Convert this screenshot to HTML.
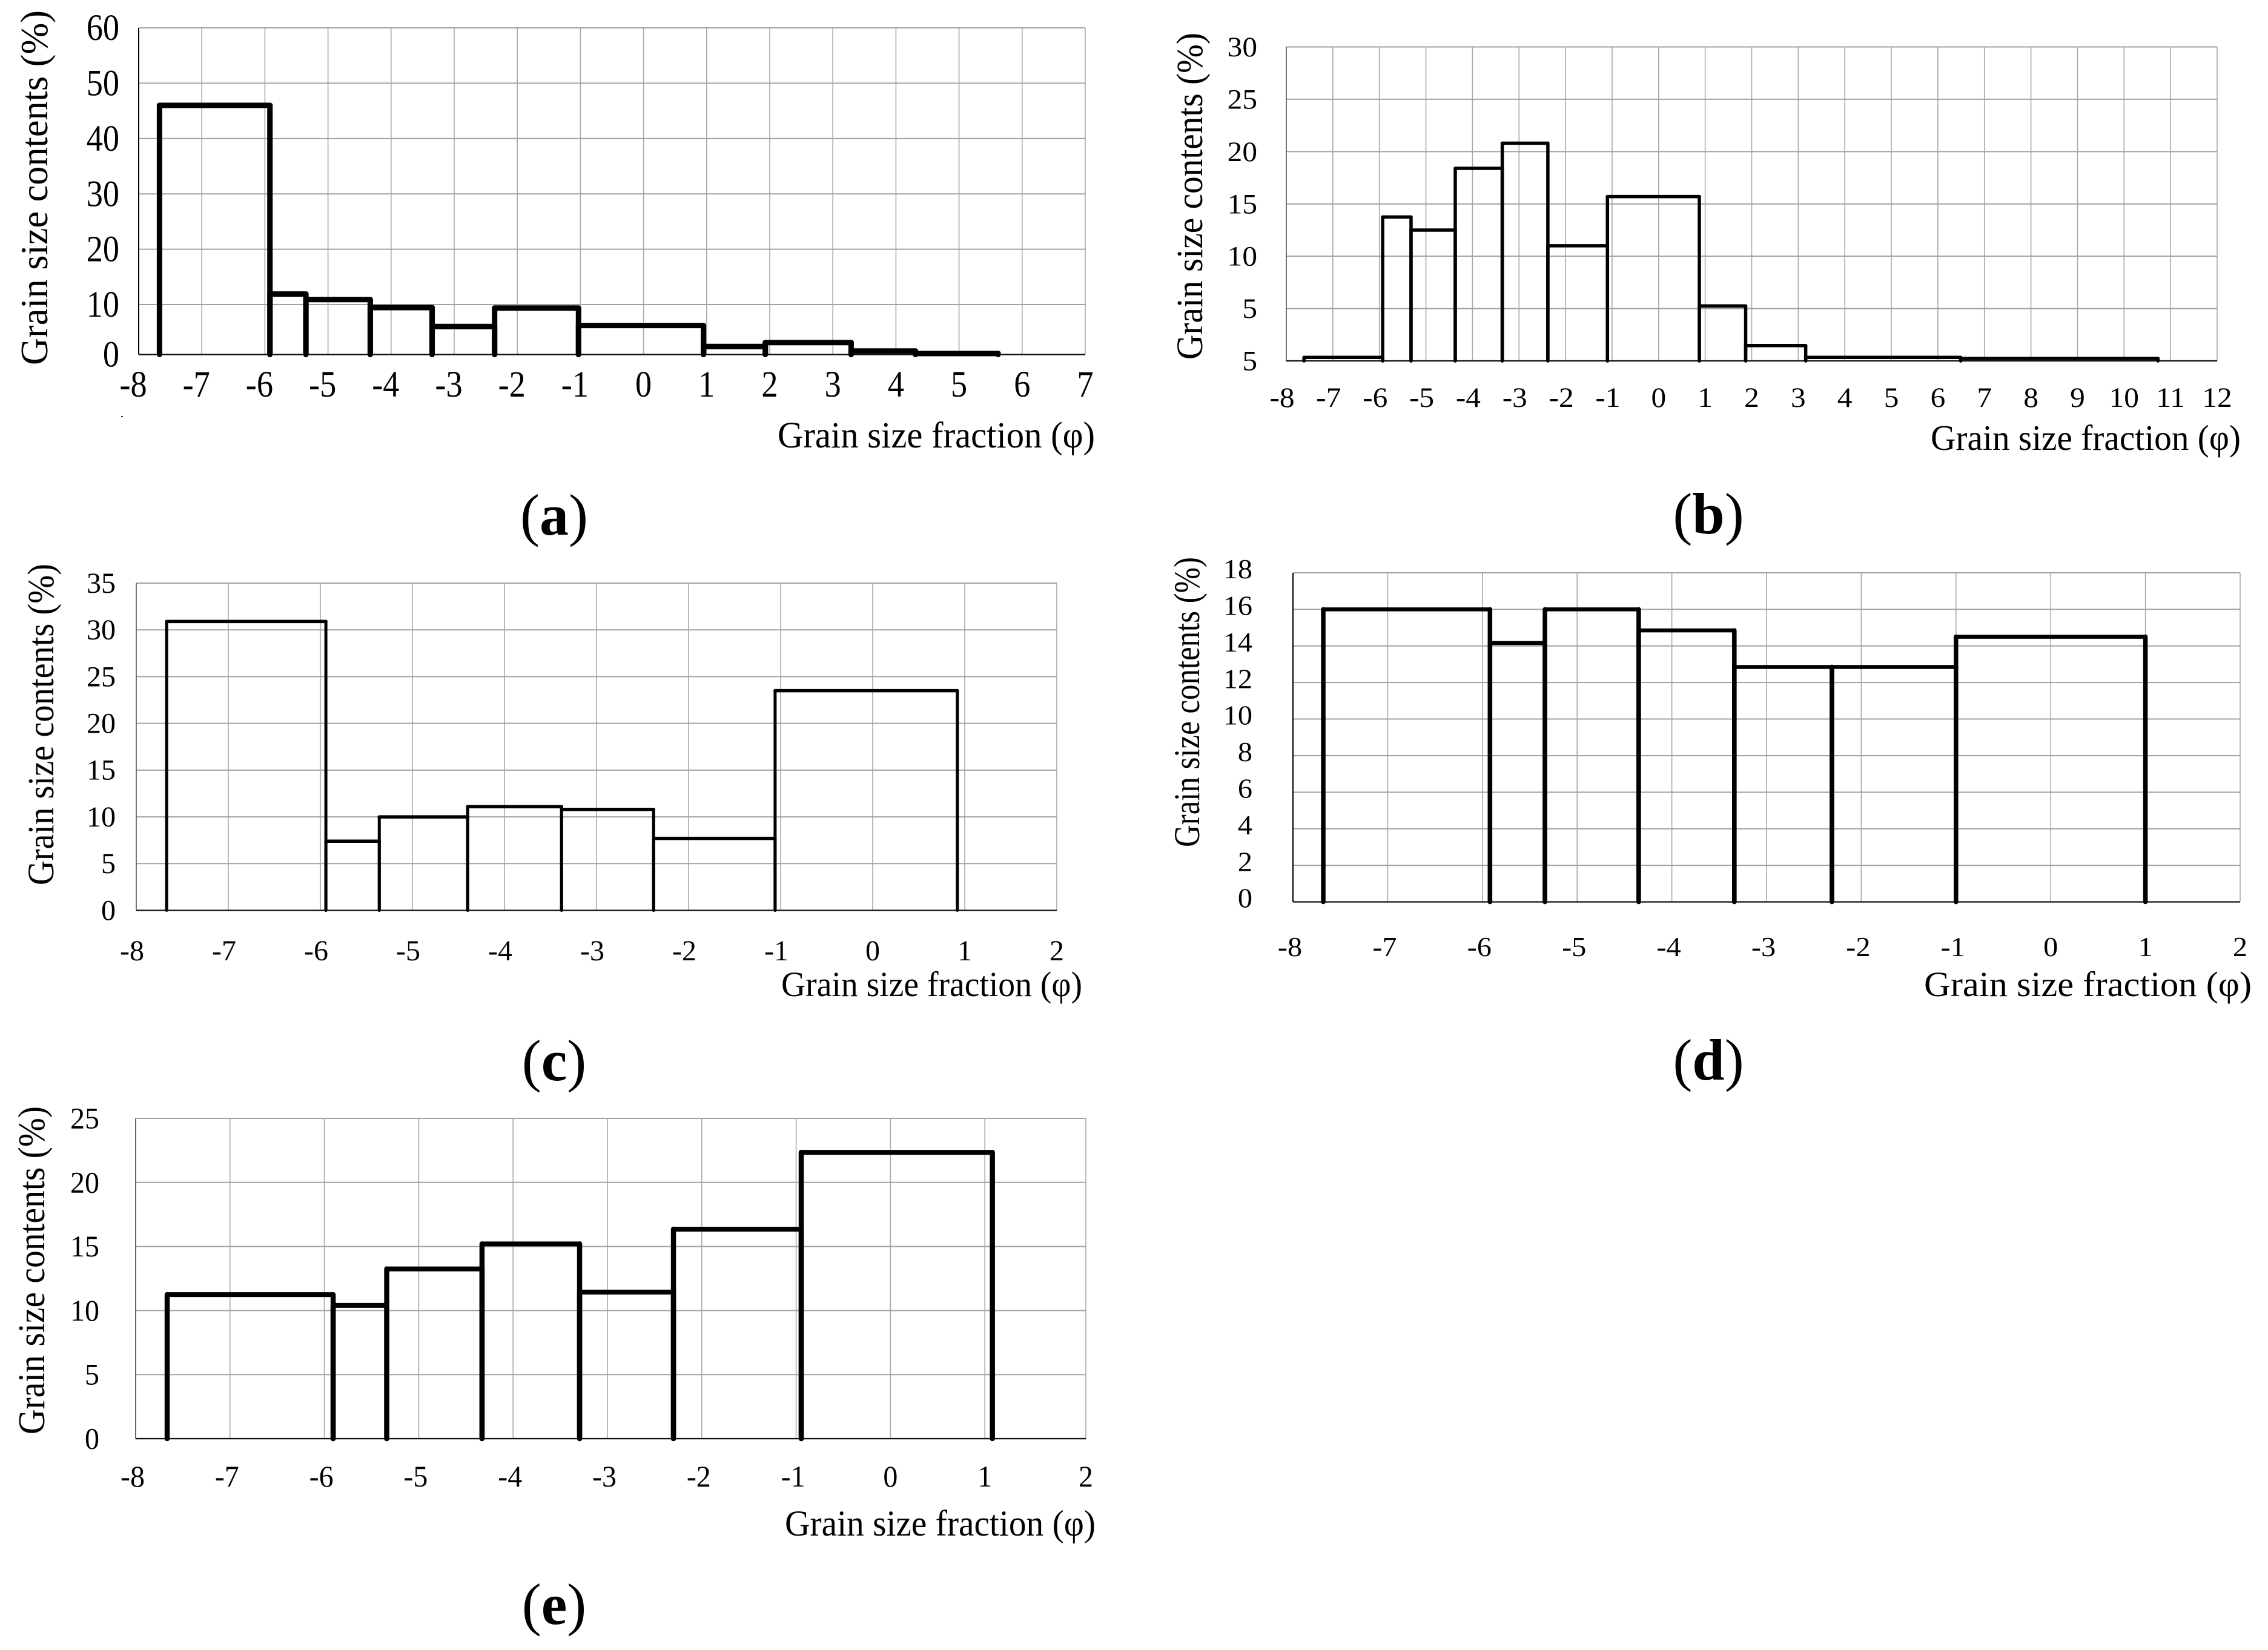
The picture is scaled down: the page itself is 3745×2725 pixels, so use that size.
<!DOCTYPE html>
<html lang="en">
<head>
<meta charset="utf-8">
<title>Grain size distribution histograms</title>
<style>
html,body{margin:0;padding:0;background:#fff;}
svg{display:block;}
text{font-family:"Liberation Serif","DejaVu Serif",serif;fill:#000;}
</style>
</head>
<body>
<svg id="figure" xmlns="http://www.w3.org/2000/svg" width="3745" height="2725" viewBox="0 0 3745 2725">
<rect x="0" y="0" width="3745" height="2725" fill="#fff"/>
<rect x="200" y="687" width="3" height="2" fill="#333"/>
</svg>
<script>
// Panel (a)
const aEdges = [-7.67,-5.92,-5.35,-4.33,-3.35,-2.36,-1.03,0.95,1.93,3.29,4.31,5.62];
const aValues = [46,11.9,10.9,9.4,5.6,9.3,5.8,1.6,2.4,0.7,0.2];
const aXTicks = [-8,-7,-6,-5,-4,-3,-2,-1,0,1,2,3,4,5,6,7];
const aYTicks = [0,10,20,30,40,50,60];
const aYLabels = ["0","10","20","30","40","50","60"];
// Panel (b)
const bEdges = [-7.62,-5.93,-5.32,-4.37,-3.36,-2.38,-1.1,0.875,1.87,3.16,6.49,10.73];
const bValues = [0.33,13.75,12.5,18.4,20.8,11,15.7,5.25,1.46,0.33,0.23];
const bXTicks = [-8,-7,-6,-5,-4,-3,-2,-1,0,1,2,3,4,5,6,7,8,9,10,11,12];
const bYTicks = [0,5,10,15,20,25,30];
const bYLabels = ["5","5","10","15","20","25","30"];
// Panel (c)
const cEdges = [-7.67,-5.94,-5.36,-4.40,-3.38,-2.38,-1.06,0.92];
const cValues = [30.9,7.4,10,11.1,10.8,7.7,23.5];
const cXTicks = [-8,-7,-6,-5,-4,-3,-2,-1,0,1,2];
const cYTicks = [0,5,10,15,20,25,30,35];
const cYLabels = ["0","5","10","15","20","25","30","35"];
// Panel (d)
const dEdges = [-7.68,-5.92,-5.34,-4.35,-3.34,-2.31,-1.0,1.0];
const dValues = [16,14.16,16,14.85,12.85,12.85,14.5];
const dXTicks = [-8,-7,-6,-5,-4,-3,-2,-1,0,1,2];
const dYTicks = [0,2,4,6,8,10,12,14,16,18];
const dYLabels = ["0","2","4","6","8","10","12","14","16","18"];
// Panel (e)
const eEdges = [-7.666,-5.907,-5.339,-4.329,-3.295,-2.30,-0.946,1.08];
const eValues = [11.24,10.4,13.25,15.2,11.44,16.35,22.35];
const eXTicks = [-8,-7,-6,-5,-4,-3,-2,-1,0,1,2];
const eYTicks = [0,5,10,15,20,25];
const eYLabels = ["0","5","10","15","20","25"];

const svg = document.getElementById('figure');
const NS = 'http://www.w3.org/2000/svg';

function make(parent, tag, props) {
  const el = document.createElementNS(NS, tag);
  for (const k in props) el.setAttribute(k, props[k]);
  parent.appendChild(el);
  return el;
}

function drawPanel(p) {
  const group = make(svg, 'g', {});
  
  

  const xMin = p.xTicks[0];
  const xMax = p.xTicks[p.xTicks.length - 1];
  const unit = p.unit || (p.right - p.left) / (xMax - xMin);
  const xScale = function (v) { return v >= xMax ? p.right : p.left + (v - xMin) * unit; };
  const yMax = p.yTicks[p.yTicks.length - 1];
  const yScale = function (v) {
    if (p.breakValue !== undefined) {
      if (v <= p.breakValue) return p.bottom - v / p.breakValue * (p.bottom - p.breakY);
      return p.breakY - (v - p.breakValue) / (yMax - p.breakValue) * (p.breakY - p.top);
    }
    return p.bottom - v / yMax * (p.bottom - p.top);
  };

  p.xTicks.forEach(function (t, i) {
    if (i > 0) {
      const line = make(group, 'line', {x1: xScale(t), x2: xScale(t), y1: p.top, y2: p.bottom, stroke: '#a8a8a8', 'stroke-width': 1.6});
      
      
    }
    const lx = xScale(t) + (t < 0 ? p.negDx : 0);
    const label = make(group, 'text', {transform: 'translate(' + lx + ' ' + p.xTickY + ') scale(' + p.tickSX + ' 1)', 'font-size': p.tickFont, 'text-anchor': 'middle'});
    label.textContent = String(t);
    
    
  });

  p.yTicks.forEach(function (t, i) {
    const isBase = i === 0;
    if (!isBase) {
      const line = make(group, 'line', {x1: p.left, x2: p.right, y1: yScale(t), y2: yScale(t), stroke: '#a2a2a2', 'stroke-width': 2});
      
      
    }
    const ly = yScale(t) + p.tickFont * 0.33 + p.tickDy;
    const label = make(group, 'text', {transform: 'translate(' + p.yTickRight + ' ' + ly + ') scale(' + p.tickSX + ' 1)', 'font-size': p.tickFont, 'text-anchor': 'end'});
    label.textContent = p.yLabels[i];
    
    
  });

  const yAxis = make(group, 'line', {x1: p.left, x2: p.left, y1: p.top, y2: p.bottom, stroke: p.axisColor, 'stroke-width': p.axisWidth});
  
  
  const xAxis = make(group, 'line', {x1: p.left, x2: p.right, y1: p.bottom, y2: p.bottom, stroke: '#111', 'stroke-width': 2.2});
  
  

  p.values.forEach(function (v, i) {
    const x0 = xScale(p.edges[i]);
    const x1 = xScale(p.edges[i + 1]);
    const yTop = yScale(v);
    const outline = make(group, 'path', {d: 'M' + x0 + ' ' + p.bottom + 'V' + yTop + 'M' + x1 + ' ' + yTop + 'V' + p.bottom, fill: 'none', stroke: '#000', 'stroke-width': p.vStroke, 'stroke-linecap': 'round'});
    
    
    const top = make(group, 'line', {x1: x0, x2: x1, y1: yTop, y2: yTop, stroke: '#000', 'stroke-width': p.hStroke, 'stroke-linecap': 'round'});
    
    
  });

  const yTitle = make(group, 'text', {transform: 'translate(' + p.yTitleX + ' ' + p.yTitleBottom + ') rotate(-90)', 'font-size': p.yTitleFont, textLength: p.yTitleLen, lengthAdjust: 'spacingAndGlyphs'});
  yTitle.textContent = 'Grain size contents (%)';
  
  

  const xTitle = make(group, 'text', {x: p.xTitleX, y: p.xTitleY, 'font-size': p.xTitleFont, textLength: p.xTitleLen, lengthAdjust: 'spacingAndGlyphs'});
  xTitle.textContent = 'Grain size fraction (φ)';
  
  

  const letter = make(group, 'text', {x: p.letterX, y: p.letterY, 'font-size': 96, 'text-anchor': 'middle'});
  const open = make(letter, 'tspan', {});
  open.textContent = '(';
  const mid = make(letter, 'tspan', {'font-weight': 'bold'});
  mid.textContent = p.id;
  const close = make(letter, 'tspan', {});
  close.textContent = ')';
  
  
}

drawPanel({id:'a', edges:aEdges, values:aValues, xTicks:aXTicks, yTicks:aYTicks, yLabels:aYLabels,
  left:229, right:1792, top:46, bottom:585.5, breakValue:10, breakY:503, axisColor:'#000', axisWidth:2,
  hStroke:9, vStroke:9, tickFont:61, tickSX:0.89, tickDy:0, xTickY:655, negDx:-9, yTickRight:197,
  yTitleX:78, yTitleBottom:603, yTitleFont:64, yTitleLen:586,
  xTitleX:1284, xTitleY:739, xTitleFont:61, xTitleLen:524, letterX:915, letterY:883});
drawPanel({id:'b', edges:bEdges, values:bValues, xTicks:bXTicks, yTicks:bYTicks, yLabels:bYLabels,
  left:2124, right:3661, top:77.5, bottom:596, axisColor:'#555', axisWidth:1.6,
  hStroke:5.5, vStroke:5.5, tickFont:47, tickSX:1.05, tickDy:0, xTickY:672, negDx:-7, yTickRight:2076,
  yTitleX:1985, yTitleBottom:594, yTitleFont:61, yTitleLen:540,
  xTitleX:3188, xTitleY:743, xTitleFont:59, xTitleLen:512, letterX:2821, letterY:881});
drawPanel({id:'c', edges:cEdges, values:cValues, xTicks:cXTicks, yTicks:cYTicks, yLabels:cYLabels,
  left:225, right:1745, top:963, bottom:1503.5, axisColor:'#555', axisWidth:1.6,
  hStroke:5.5, vStroke:5, tickFont:48, tickSX:1, tickDy:0, xTickY:1586, negDx:-7, yTickRight:191,
  yTitleX:88, yTitleBottom:1462, yTitleFont:61, yTitleLen:531,
  xTitleX:1290, xTitleY:1645, xTitleFont:58, xTitleLen:497, letterX:915, letterY:1784});
drawPanel({id:'d', edges:dEdges, values:dValues, xTicks:dXTicks, yTicks:dYTicks, yLabels:dYLabels,
  left:2135, right:3699, top:946, bottom:1489.5, axisColor:'#000', axisWidth:2,
  hStroke:6.5, vStroke:7.5, tickFont:46, tickSX:1.05, tickDy:-6, xTickY:1579, negDx:-5, yTickRight:2068,
  yTitleX:1980, yTitleBottom:1399, yTitleFont:60, yTitleLen:479,
  xTitleX:3177, xTitleY:1645, xTitleFont:58, xTitleLen:541, letterX:2821, letterY:1783});
drawPanel({id:'e', edges:eEdges, values:eValues, xTicks:eXTicks, yTicks:eYTicks, yLabels:eYLabels,
  left:224, right:1793, unit:155.8, top:1847, bottom:2376, axisColor:'#444', axisWidth:1.6,
  hStroke:8, vStroke:8.5, tickFont:50, tickSX:0.96, tickDy:0, xTickY:2455, negDx:-5, yTickRight:164,
  yTitleX:73, yTitleBottom:2369, yTitleFont:62, yTitleLen:542,
  xTitleX:1296, xTitleY:2536, xTitleFont:60, xTitleLen:513, letterX:915, letterY:2682});
</script>
</body>
</html>
